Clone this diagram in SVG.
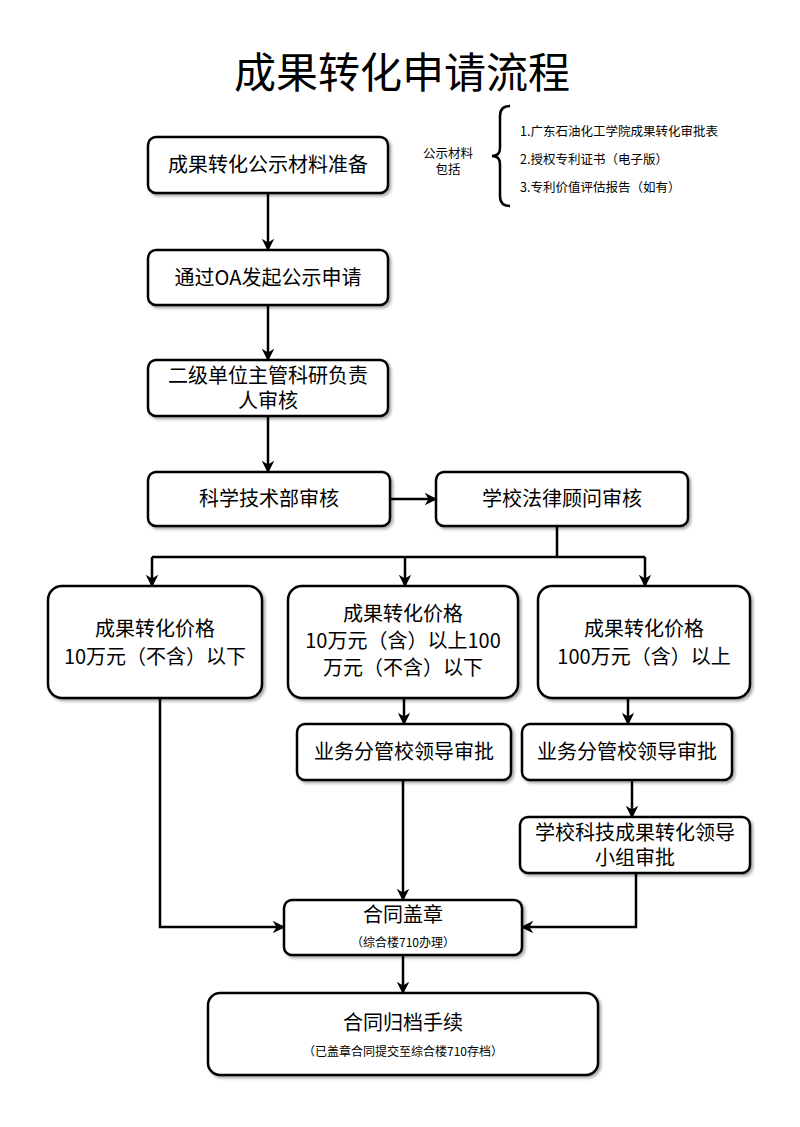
<svg xmlns="http://www.w3.org/2000/svg" width="800" height="1127" viewBox="0 0 800 1127">
<style>
text{font-family:"Noto Sans CJK SC","Noto Sans",sans-serif;fill:#000;text-anchor:middle}
.b{fill:#fff;stroke:#000;stroke-width:2.5;filter:url(#sh)}
.t{font-size:20px}
.s{font-size:12px}
.n{font-size:12.5px;text-anchor:start}
.c{fill:none;stroke:#000;stroke-width:2.5}
</style>
<defs>
<filter id="sh" x="-10%" y="-10%" width="120%" height="130%"><feDropShadow dx="2" dy="2" stdDeviation="1.5" flood-opacity="0.35"/></filter>
<marker id="a" viewBox="0 0 10 10" refX="9" refY="5" markerWidth="5" markerHeight="5" orient="auto"><path d="M0,0L10,5L0,10L3,5z" fill="#000"/></marker>
</defs>
<rect width="800" height="1127" fill="#fff"/>
<text x="402" y="88" style="font-size:42px">成果转化申请流程</text>
<g id="note">
<text x="448" y="158" style="font-size:12.5px">公示材料</text>
<text x="448" y="174" style="font-size:12.5px">包括</text>
<path d="M510,106 Q500,106 500,116 L500,148 Q500,156 492,156 Q500,156 500,164 L500,196 Q500,206 510,206" fill="none" stroke="#000" stroke-width="2.5"/>
<text x="520" y="136" class="n">1.广东石油化工学院成果转化审批表</text>
<text x="520" y="164" class="n">2.授权专利证书（电子版）</text>
<text x="520" y="192" class="n">3.专利价值评估报告（如有）</text>
</g>
<g id="n1"><rect class="b" x="148" y="137" width="240" height="56" rx="8"/><text class="t" x="268" y="172">成果转化公示材料准备</text></g>
<g id="n2"><rect class="b" x="148" y="250" width="240" height="55" rx="8"/><text class="t" x="268" y="285">通过OA发起公示申请</text></g>
<g id="n3"><rect class="b" x="148" y="360" width="240" height="56" rx="8"/><text class="t" x="268" y="383">二级单位主管科研负责</text><text class="t" x="268" y="408">人审核</text></g>
<g id="n4"><rect class="b" x="148" y="472" width="242" height="54" rx="8"/><text class="t" x="269" y="506">科学技术部审核</text></g>
<g id="n5"><rect class="b" x="436" y="472" width="252" height="54" rx="8"/><text class="t" x="562" y="506">学校法律顾问审核</text></g>
<g id="nA"><rect class="b" x="48" y="586" width="214" height="112" rx="14"/><text class="t" x="155" y="636">成果转化价格</text><text class="t" x="155" y="664">10万元（不含）以下</text></g>
<g id="nB"><rect class="b" x="288" y="586" width="230" height="112" rx="14"/><text class="t" x="403" y="621">成果转化价格</text><text class="t" x="403" y="648">10万元（含）以上100</text><text class="t" x="403" y="675">万元（不含）以下</text></g>
<g id="nC"><rect class="b" x="538" y="586" width="212" height="112" rx="14"/><text class="t" x="644" y="636">成果转化价格</text><text class="t" x="644" y="664">100万元（含）以上</text></g>
<g id="nB2"><rect class="b" x="297" y="724" width="214" height="56" rx="8"/><text class="t" x="404" y="759">业务分管校领导审批</text></g>
<g id="nC2"><rect class="b" x="522" y="724" width="210" height="56" rx="8"/><text class="t" x="627" y="759">业务分管校领导审批</text></g>
<g id="nC3"><rect class="b" x="520" y="817" width="230" height="56" rx="8"/><text class="t" x="635" y="840">学校科技成果转化领导</text><text class="t" x="635" y="865">小组审批</text></g>
<g id="nS"><rect class="b" x="284" y="900" width="238" height="55" rx="8"/><text class="t" x="403" y="922">合同盖章</text><text class="s" x="403" y="947">（综合楼710办理）</text></g>
<g id="nF"><rect class="b" x="208" y="993" width="390" height="82" rx="12"/><text class="t" x="403" y="1030">合同归档手续</text><text class="s" x="403" y="1056">（已盖章合同提交至综合楼710存档）</text></g>
<g id="connectors">
<path class="c" marker-end="url(#a)" d="M268,193V250"/>
<path class="c" marker-end="url(#a)" d="M268,305V360"/>
<path class="c" marker-end="url(#a)" d="M268,416V472"/>
<path class="c" marker-end="url(#a)" d="M390,499H436"/>
<path class="c" d="M557,526V557M152,557H645"/>
<path class="c" marker-end="url(#a)" d="M152,557V586"/>
<path class="c" marker-end="url(#a)" d="M405,557V586"/>
<path class="c" marker-end="url(#a)" d="M645,557V586"/>
<path class="c" marker-end="url(#a)" d="M404,698V724"/>
<path class="c" marker-end="url(#a)" d="M628,698V724"/>
<path class="c" marker-end="url(#a)" d="M632,780V817"/>
<path class="c" marker-end="url(#a)" d="M160,698V927H284"/>
<path class="c" marker-end="url(#a)" d="M403,780V900"/>
<path class="c" marker-end="url(#a)" d="M636,873V927H522"/>
<path class="c" marker-end="url(#a)" d="M403,955V993"/>
</g>
</svg>
